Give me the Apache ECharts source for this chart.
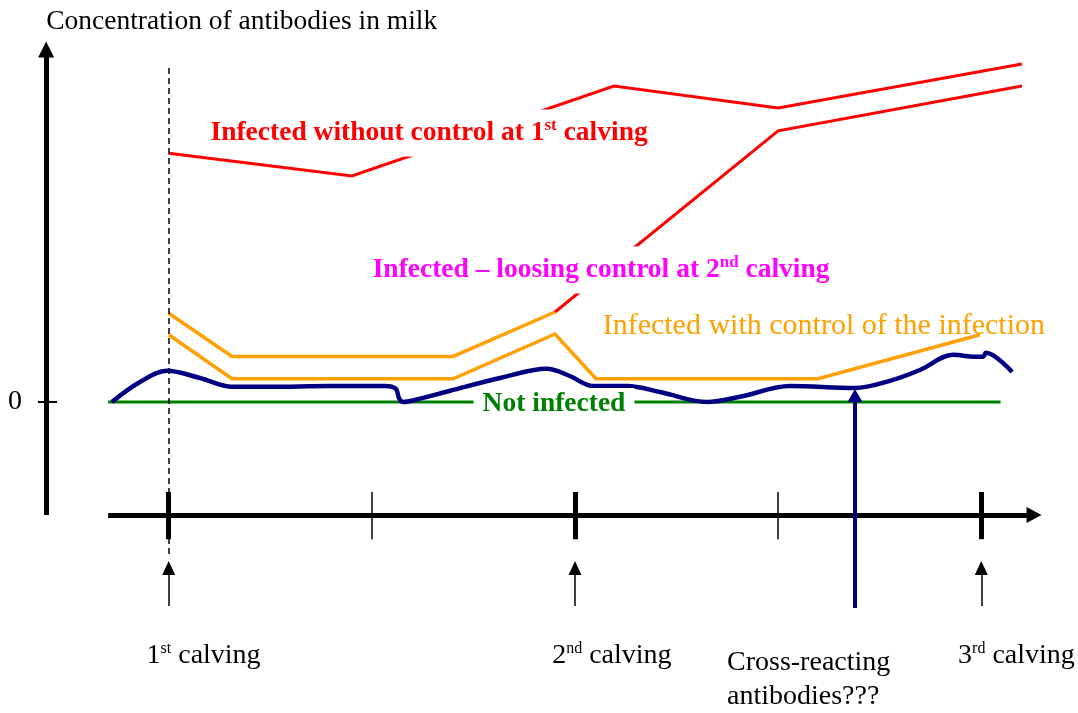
<!DOCTYPE html>
<html>
<head>
<meta charset="utf-8">
<script src="https://cdn.jsdelivr.net/npm/echarts@6/dist/echarts.min.js"></script>
<style>
  html, body { margin: 0; background: #fff; }
  #chart { width: 1078px; height: 713px; }
</style>
</head>
<body>
<div id="chart"></div>
<script>
// time in months from 1st calving, concentration in arbitrary units (0 = baseline)
const tickMonths = [0, 6, 12, 18, 24]
const calvingMonths = [0, 12, 24]
const calvingNums = ['1', '2', '3']
const calvingSups = ['st', 'nd', 'rd']

const withoutControl = [[0, 6.22], [5.41, 5.65], [13.15, 7.9], [18, 7.35], [25.2, 8.45]]
const losingBefore = [[0, 2.22], [1.87, 1.14], [8.4, 1.14], [11.41, 2.25]]
const losingAfter = [[11.41, 2.25], [18, 6.78], [25.2, 7.9]]
const withControl = [[0, 1.68], [1.87, 0.58], [8.4, 0.58], [11.41, 1.7], [12.62, 0.58], [19.18, 0.58], [23.96, 1.68]]
const notInfected = [[-1.79, 0], [24.57, 0]]
const crossReacting = [
  [-1.68, 0], [-0.85, 0.5], [-0.05, 0.78], [0.92, 0.6], [1.87, 0.38], [2.99, 0.38],
  [4.76, 0.4], [6.39, 0.4], [6.71, 0.33], [6.8, 0.1], [6.92, 0], [7.27, 0.05],
  [8.31, 0.28], [9.79, 0.6], [11.17, 0.83], [11.85, 0.65], [12.53, 0.4], [13.54, 0.4],
  [14.51, 0.25], [15.9, 0], [16.87, 0.13], [18.35, 0.4], [20.27, 0.35], [21.3, 0.53],
  [22.19, 0.8], [23.17, 1.18], [23.81, 1.13], [24.05, 1.13], [24.14, 1.23], [24.91, 0.75]
]
const crossMonth = 20.27

const yTitle = 'Concentration of antibodies in milk'
const labelWithout = ['Infected without control at 1', 'st', ' calving']
const labelLosing = ['Infected \u2013 loosing control at 2', 'nd', ' calving']
const labelWith = 'Infected with control of the infection'
const labelNot = 'Not infected'
const labelCross = 'Cross-reacting\nantibodies???'

const FONT = '"Liberation Serif", "Times New Roman", serif'
const RED = '#ff0000', MAGENTA = '#ff00ff', ORANGE = '#ffa000', GREEN = '#008000', NAVY = '#000080'

const chart = echarts.init(document.getElementById('chart'))

function polyline(data, color, width, extra) {
  return Object.assign({
    type: 'line', data, symbol: 'none', silent: true, clip: false, z: 3,
    lineStyle: { color, width, cap: 'butt', join: 'miter' }
  }, extra || {})
}

function segments(pairs, color, width, opts) {
  opts = opts || {}
  return {
    type: 'line', data: [], silent: true, z: opts.z || 4,
    markLine: {
      silent: true,
      animation: false,
      symbol: opts.symbol || ['none', 'none'],
      symbolSize: opts.symbolSize || 10,
      label: { show: false },
      emphasis: { disabled: true },
      itemStyle: { color },
      lineStyle: { color, width, type: opts.type || 'solid', cap: 'butt' },
      data: pairs.map(p => [{ coord: p[0] }, { coord: p[1] }])
    }
  }
}

function sup(parts, color, size, supSize, bold) {
  return {
    formatter: `{a|${parts[0]}}{s|${parts[1]}}{a|${parts[2]}}`,
    rich: {
      a: { fontSize: size, color, fontFamily: FONT, fontWeight: bold ? 'bold' : 'normal' },
      s: { fontSize: supSize, color, fontFamily: FONT, fontWeight: bold ? 'bold' : 'normal', padding: [0, 0, 14, 0] }
    }
  }
}

const textItems = [
  { value: [-3.62, 9.5], label: { formatter: yTitle, align: 'left', fontSize: 27.5, color: '#000' } },
  { value: [-4.54, 0], label: { formatter: '0', fontSize: 28, color: '#000' } },
  { value: [7.69, 6.725], label: Object.assign(sup(labelWithout, RED, 27.5, 17, true),
      { backgroundColor: '#fff', padding: [8, 4] }) },
  { value: [12.77, 3.3], label: Object.assign(sup(labelLosing, MAGENTA, 27.5, 17, true),
      { backgroundColor: '#fff', padding: [8, 4] }) },
  { value: [19.35, 1.9], label: { formatter: labelWith, fontSize: 30, color: ORANGE } },
  { value: [11.38, -0.05], label: { formatter: labelNot, fontSize: 27.5, fontWeight: 'bold', color: GREEN,
      backgroundColor: '#fff', padding: [2, 9] } },
  { value: [16.49, -6.95], label: { formatter: labelCross, align: 'left', fontSize: 28, lineHeight: 34, color: '#000' } }
]
const calvingX = [1.03, 13.09, 25.04]
calvingNums.forEach((n, i) => {
  textItems.push({ value: [calvingX[i], -6.35], label: sup([n, calvingSups[i], ' calving'], '#000', 28, 16, false) })
})

const option = {
  animation: false,
  grid: { left: 0, right: 0, top: 0, bottom: 0 },
  xAxis: { type: 'value', min: -4.983, max: 26.857, show: false },
  yAxis: { type: 'value', min: -7.775, max: 10.05, show: false },
  series: [
    // axes
    segments([[[-3.62, -2.825], [-3.62, 8.81]]], '#000', 5, { symbol: ['none', 'triangle'], symbolSize: [16, 16] }),
    segments([[[-1.79, -2.825], [25.56, -2.825]]], '#000', 5, { symbol: ['none', 'triangle'], symbolSize: [16, 15] }),
    segments([[[-3.86, 0], [-3.3, 0]]], '#000', 2),
    segments(tickMonths.filter(m => calvingMonths.includes(m)).map(m => [[m, -2.25], [m, -3.43]]), '#000', 5),
    segments(tickMonths.filter(m => !calvingMonths.includes(m)).map(m => [[m, -2.25], [m, -3.43]]), '#000', 1.5),
    // calving arrows
    segments(calvingMonths.map(m => [[m, -5.1], [m, -4.15]]), '#000', 1.5, { symbol: ['none', 'triangle'], symbolSize: [13, 14] }),
    // curves
    polyline(notInfected, GREEN, 3),
    polyline(withoutControl, RED, 3),
    polyline(losingBefore, ORANGE, 3.5),
    polyline(losingAfter, RED, 3),
    polyline(withControl, ORANGE, 3.5),
    polyline(crossReacting, NAVY, 4.5, { smooth: 0.35, z: 4 }),
    // dashed marker at 1st calving
    segments([[[0, 8.35], [0, -3.83]]], '#000', 1.5, { type: [6, 4], z: 5 }),
    // cross-reacting arrow
    segments([[[crossMonth, -5.15], [crossMonth, 0.16]]], NAVY, 4, { symbol: ['none', 'triangle'], symbolSize: [15, 13], z: 6 }),
    // texts
    {
      type: 'scatter', data: textItems, symbolSize: 0, silent: true, clip: false, z: 10,
      itemStyle: { opacity: 1 },
      label: {
        show: true, position: 'inside', align: 'center', verticalAlign: 'middle',
        fontFamily: FONT, textBorderWidth: 0, opacity: 1
      }
    }
  ]
}

chart.setOption(option)
</script>
</body>
</html>
